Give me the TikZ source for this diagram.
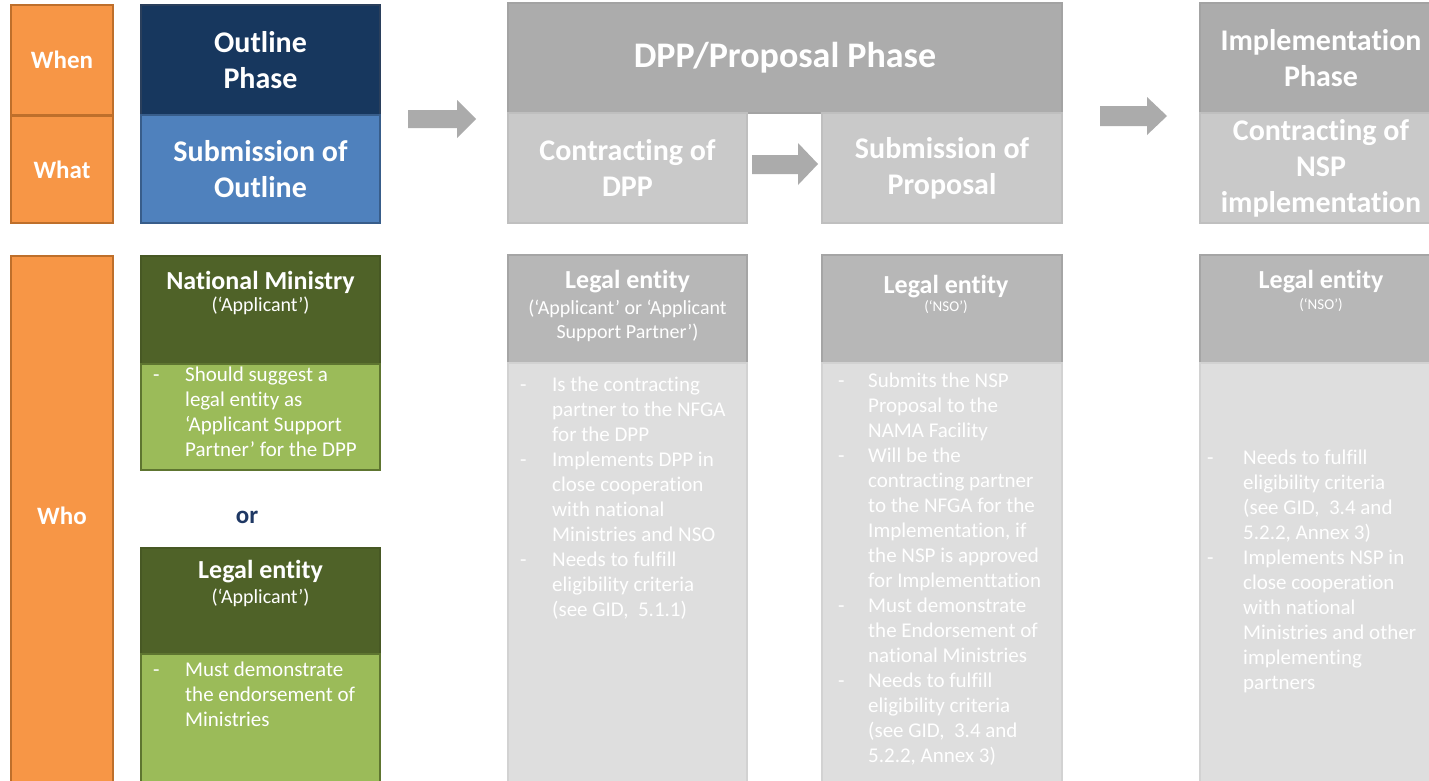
\documentclass[tikz,border=0pt]{standalone}
\usepackage{fontspec}
\setmainfont{Carlito}[Ligatures=CommonOff]
\definecolor{orng}{HTML}{F79646}
\definecolor{orngD}{HTML}{BE6F2B}
\definecolor{navy}{HTML}{17375E}
\definecolor{navyD}{HTML}{2A3F5C}
\definecolor{blueF}{HTML}{4F81BD}
\definecolor{blueD}{HTML}{385D8A}
\definecolor{grnD}{HTML}{4F6228}
\definecolor{grnL}{HTML}{9BBB59}
\definecolor{grnB}{HTML}{5E7530}
\definecolor{grayH}{HTML}{ACACAC}
\definecolor{grayS}{HTML}{C9C9C9}
\definecolor{grayLH}{HTML}{B7B7B7}
\definecolor{grayBody}{HTML}{DEDEDE}
\definecolor{grayLine}{HTML}{D2D2D2}
\definecolor{arrowgray}{HTML}{ABABAB}
\definecolor{ornavy}{HTML}{1F3864}
\newcommand{\mydash}[1]{\makebox[#1][l]{-}}
\newcommand{\myind}[1]{\hspace*{#1}}
\begin{document}
\begin{tikzpicture}[x=1pt,y=-1pt,
  box/.style={anchor=north west, inner sep=0pt, outer sep=0pt, line width=1.2pt, align=center, text=white},
  hd/.style={font=\fontsize{30}{36}\selectfont\bfseries},
  lbl/.style={font=\fontsize{25}{30}\selectfont\bfseries},
  ttl/.style={inner sep=0pt, text=white, font=\fontsize{26}{30}\selectfont\bfseries},
  subt/.style={inner sep=0pt, text=white, align=center, font=\fontsize{20}{24}\selectfont},
  subs/.style={inner sep=0pt, text=white, align=center, font=\fontsize{15}{18}\selectfont},
  bul/.style={anchor=north west, inner sep=0pt, align=left, text=white, font=\fontsize{21}{25}\selectfont},
  blockarrow/.style={fill=arrowgray, draw=none},
  grayhead/.style={box, fill=grayLH, draw=grayLH!90!black},
  graybody/.style={box, fill=grayBody, draw=grayLine}
]
\useasboundingbox (0,0) rectangle (1429,780);
\fill[white] (0,0) rectangle (1429,780);

% left labels
\node[box, lbl, fill=orng, draw=orngD, minimum width=102pt, minimum height=110pt] (when) at (11,5) {When};
\node[box, lbl, fill=orng, draw=orngD, minimum width=102pt, minimum height=107pt] (what) at (11,116) {What};
\node[box, lbl, fill=orng, draw=orngD, minimum width=102pt, minimum height=540pt] (who) at (11,256) {};
\node[lbl, text=white, inner sep=0pt] (wholbl) at (62,516) {Who};

% outline phase
\node[box, hd, fill=navy, draw=navyD, minimum width=239pt, minimum height=110pt] (outline) at (141,5) {Outline\\Phase};
\node[box, hd, fill=blueF, draw=blueD, minimum width=239pt, minimum height=108pt] (subout) at (141,115) {Submission of\\Outline};

% DPP phase
\node[box, fill=grayH, draw=grayH!95!black, minimum width=554pt, minimum height=110pt, font=\fontsize{36}{40}\selectfont\bfseries] (dpp) at (508,3) {DPP/Proposal Phase};
\node[box, hd, fill=grayS, draw=grayS!95!black, minimum width=239pt, minimum height=110pt] (contr) at (508,113) {Contracting of\\DPP};
\node[box, hd, fill=grayS, draw=grayS!95!black, minimum width=240pt, minimum height=110pt] (subprop) at (822,113) {Submission of\\Proposal};

% implementation phase
\node[box, hd, fill=grayH, draw=grayH!95!black, minimum width=242pt, minimum height=110pt] (impl) at (1200,3) {Implementation\\Phase};
\node[box, hd, fill=grayS, draw=grayS!95!black, minimum width=242pt, minimum height=110pt] (contnsp) at (1200,113) {Contracting of\\NSP\\implementation};

% block arrows
\fill[blockarrow] (408,110) -- (457,110) -- (457,100) -- (476,119) -- (457,138) -- (457,128) -- (408,128) -- cycle;
\fill[blockarrow] (752,155) -- (798,155) -- (798,143) -- (818,164) -- (798,185) -- (798,174) -- (752,174) -- cycle;
\fill[blockarrow] (1100,106) -- (1147,106) -- (1147,97) -- (1167,116) -- (1147,135) -- (1147,126) -- (1100,126) -- cycle;

% left green: national ministry
\node[box, fill=grnD, draw=grnD!90!black, minimum width=239pt, minimum height=108pt] (nmh) at (141,256) {};
\node[box, fill=grnL, draw=grnB, minimum width=239pt, minimum height=106pt] (nmb) at (141,364) {};
\node[ttl] (nmt) at (260.5,282) {National Ministry};
\node[subt] (nms) at (260.5,306) {(‘Applicant’)};
\node[bul] (nmtext) at (153,367) {\mydash{32pt}Should suggest a\\
\myind{32pt}legal entity as\\
\myind{32pt}‘Applicant Support\\
\myind{32pt}Partner’ for the DPP};

\node[inner sep=0pt, text=ornavy, font=\fontsize{25}{30}\selectfont\bfseries] (or) at (247,517) {or};

% left green: legal entity
\node[box, fill=grnD, draw=grnD!90!black, minimum width=239pt, minimum height=106pt] (leh) at (141,548) {};
\node[box, fill=grnL, draw=grnB, minimum width=239pt, minimum height=140pt] (leb) at (141,654) {};
\node[ttl] (let) at (260.5,572) {Legal entity};
\node[subt] (les) at (260.5,598) {(‘Applicant’)};
\node[bul] (letext) at (153,662) {\mydash{32pt}Must demonstrate\\
\myind{32pt}the endorsement of\\
\myind{32pt}Ministries};

% column 2
\node[grayhead, minimum width=239pt, minimum height=108pt] (c2h) at (508,255) {};
\node[graybody, minimum width=239pt, minimum height=430pt] (c2b) at (508,363) {};
\node[ttl] (c2t) at (627.5,282) {Legal entity};
\node[subt] (c2s) at (627.5,321) {(‘Applicant’ or ‘Applicant\\Support Partner’)};
\node[bul] (c2text) at (520,377) {\mydash{32pt}Is the contracting\\
\myind{32pt}partner to the NFGA\\
\myind{32pt}for the DPP\\
\mydash{32pt}Implements DPP in\\
\myind{32pt}close cooperation\\
\myind{32pt}with national\\
\myind{32pt}Ministries and NSO\\
\mydash{32pt}Needs to fulfill\\
\myind{32pt}eligibility criteria\\
\myind{32pt}(see GID,\ \ 5.1.1)};

% column 3
\node[grayhead, minimum width=240pt, minimum height=108pt] (c3h) at (822,255) {};
\node[graybody, minimum width=240pt, minimum height=430pt] (c3b) at (822,363) {};
\node[ttl] (c3t) at (946,287) {Legal entity};
\node[subs] (c3s) at (946,307) {(‘NSO’)};
\node[bul] (c3text) at (838,373) {\mydash{30pt}Submits the NSP\\
\myind{30pt}Proposal to the\\
\myind{30pt}NAMA Facility\\
\mydash{30pt}Will be the\\
\myind{30pt}contracting partner\\
\myind{30pt}to the NFGA for the\\
\myind{30pt}Implementation, if\\
\myind{30pt}the NSP is approved\\
\myind{30pt}for Implementtation\\
\mydash{30pt}Must demonstrate\\
\myind{30pt}the Endorsement of\\
\myind{30pt}national Ministries\\
\mydash{30pt}Needs to fulfill\\
\myind{30pt}eligibility criteria\\
\myind{30pt}(see GID,\ \ 3.4 and\\
\myind{30pt}5.2.2, Annex 3)};

% column 4
\node[grayhead, minimum width=242pt, minimum height=108pt] (c4h) at (1200,255) {};
\node[graybody, minimum width=242pt, minimum height=430pt] (c4b) at (1200,363) {};
\node[ttl] (c4t) at (1321,282) {Legal entity};
\node[subs] (c4s) at (1321,305) {(‘NSO’)};
\node[bul] (c4text) at (1207,450) {\mydash{36pt}Needs to fulfill\\
\myind{36pt}eligibility criteria\\
\myind{36pt}(see GID,\ \ 3.4 and\\
\myind{36pt}5.2.2, Annex 3)\\
\mydash{36pt}Implements NSP in\\
\myind{36pt}close cooperation\\
\myind{36pt}with national\\
\myind{36pt}Ministries and other\\
\myind{36pt}implementing\\
\myind{36pt}partners};
\end{tikzpicture}
\end{document}
